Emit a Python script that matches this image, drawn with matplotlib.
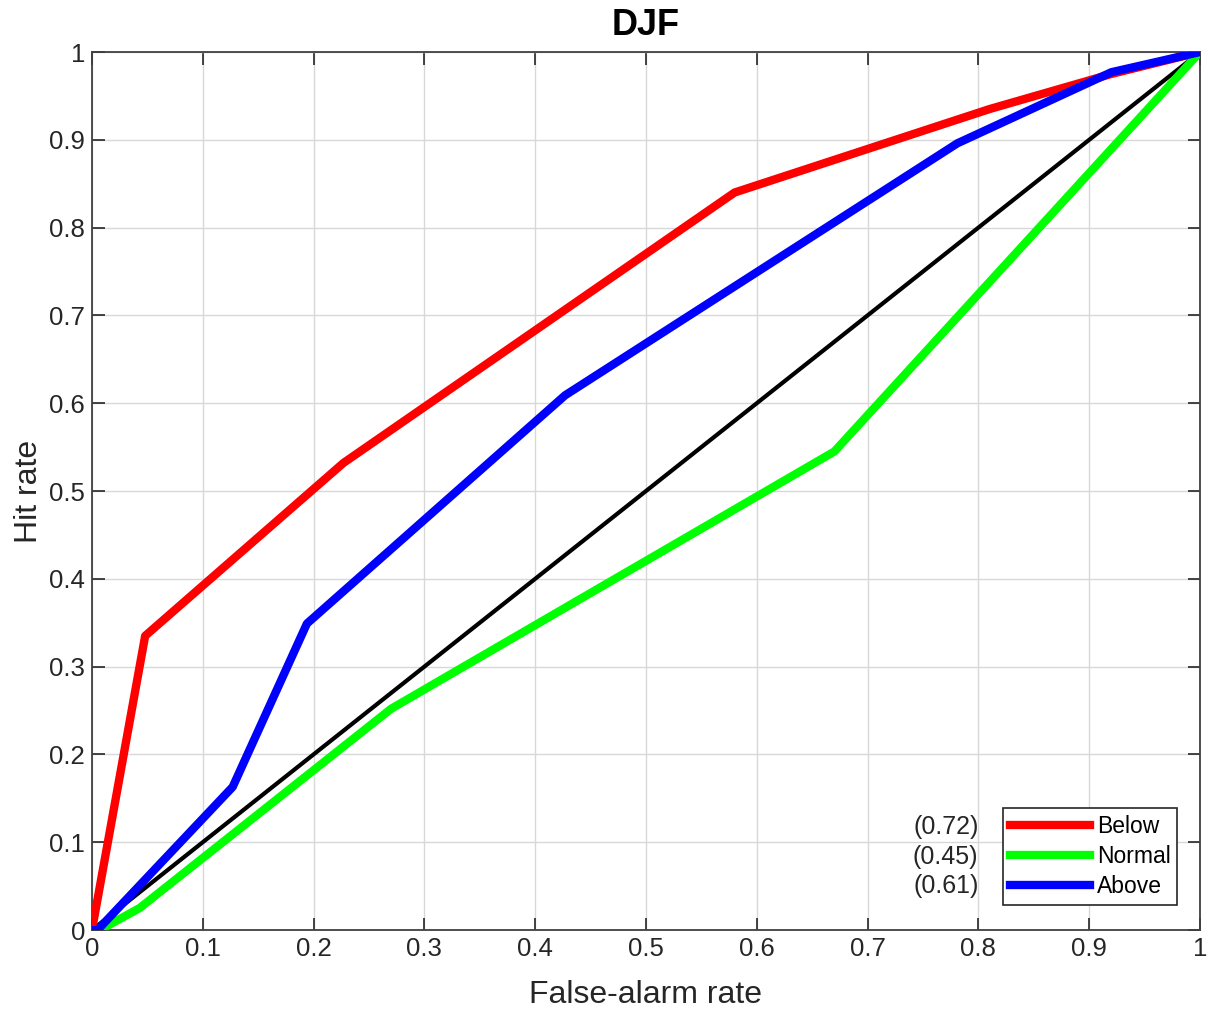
import matplotlib.pyplot as plt
import numpy as np

plt.rcParams['font.family'] = ['Liberation Sans', 'DejaVu Sans']

# ROC points
below_far = [0, 0.048, 0.227, 0.58, 0.81, 0.92, 1]
below_hr = [0, 0.335, 0.532, 0.84, 0.935, 0.975, 1]
normal_far = [0, 0.007, 0.043, 0.27, 0.67, 1]
normal_hr = [0, 0, 0.025, 0.252, 0.545, 1]
above_far = [0, 0.005, 0.127, 0.194, 0.427, 0.781, 0.92, 1]
above_hr = [0, 0, 0.163, 0.349, 0.609, 0.896, 0.977, 1]
labels = ['Below', 'Normal', 'Above']
areas = ['(0.72)', '(0.45)', '(0.61)']
ticks = np.arange(0, 1.01, 0.1)
tick_labels = ['0', '0.1', '0.2', '0.3', '0.4', '0.5', '0.6', '0.7', '0.8', '0.9', '1']

fig = plt.figure(figsize=(12.07, 10.10), dpi=100)
ax = fig.add_axes([0.0762, 0.0792, 0.9180, 0.8693])

ax.plot([0, 1], [0, 1], color='black', lw=3, zorder=2)
l1, = ax.plot(below_far, below_hr, color='#ff0000', lw=6, zorder=3, label=labels[0])
l2, = ax.plot(normal_far, normal_hr, color='#00ff00', lw=6, zorder=3, label=labels[1])
l3, = ax.plot(above_far, above_hr, color='#0000ff', lw=6, zorder=4, label=labels[2])

ax.set_xlim(0, 1)
ax.set_ylim(0, 1)
ax.set_xticks(ticks, labels=tick_labels)
ax.set_yticks(ticks, labels=tick_labels)
ax.tick_params(direction='in', length=9, width=1.2, labelsize=18.5, colors='#262626',
               top=True, right=True, pad=5)
ax.grid(True, color='#d8d8d8', lw=1)
for s in ax.spines.values():
    s.set_color('#404040')
    s.set_linewidth(1.3)

ax.set_xlabel('False-alarm rate', fontsize=23, color='#262626', labelpad=14)
ax.set_ylabel('Hit rate', fontsize=23, color='#262626', labelpad=4)
ax.set_title('DJF', fontsize=26, fontweight='bold', pad=12)

leg = ax.legend(handles=[l1, l2, l3], loc='lower right', bbox_to_anchor=(0.9795, 0.0285),
                fontsize=16.5, frameon=True, fancybox=False, framealpha=1,
                edgecolor='#262626', handlelength=3.5, handletextpad=0.3,
                labelspacing=0.3, borderpad=0.3, borderaxespad=0)
leg.get_frame().set_linewidth(1.2)

for i, a in enumerate(areas):
    ax.text(0.8, 0.117 - i * 0.0335, a, ha='right', va='center', fontsize=18, color='#262626')

fig.savefig('out.png', dpi=100)
